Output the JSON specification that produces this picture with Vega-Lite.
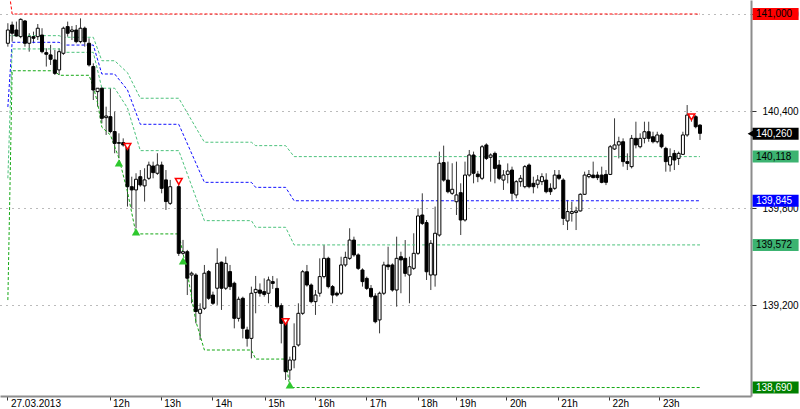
{
"$schema":"https://vega.github.io/schema/vega-lite/v6.json",
"width":751,"height":396,
"autosize":{"type":"none"},
"padding":{"left":0,"top":0,"right":49,"bottom":13},
"background":"white",
"config":{"view":{"stroke":null},"font":"Liberation Sans"},
"datasets":{
"candles":[
{"i":0,"o":140.819,"h":140.943,"l":140.798,"c":140.901},
{"i":1,"o":140.932,"h":140.953,"l":140.829,"c":140.881},
{"i":2,"o":140.901,"h":140.953,"l":140.860,"c":140.864},
{"i":3,"o":140.860,"h":140.973,"l":140.850,"c":140.967},
{"i":4,"o":140.957,"h":140.963,"l":140.798,"c":140.819},
{"i":5,"o":140.819,"h":140.881,"l":140.767,"c":140.860},
{"i":6,"o":140.860,"h":140.891,"l":140.819,"c":140.850},
{"i":7,"o":140.860,"h":140.938,"l":140.839,"c":140.912},
{"i":8,"o":140.870,"h":140.912,"l":140.757,"c":140.767},
{"i":9,"o":140.761,"h":140.788,"l":140.675,"c":140.751},
{"i":10,"o":140.747,"h":140.809,"l":140.685,"c":140.720},
{"i":11,"o":140.716,"h":140.778,"l":140.623,"c":140.633},
{"i":12,"o":140.654,"h":140.788,"l":140.623,"c":140.767},
{"i":13,"o":140.757,"h":140.922,"l":140.747,"c":140.912},
{"i":14,"o":140.922,"h":140.953,"l":140.860,"c":140.881},
{"i":15,"o":140.891,"h":140.926,"l":140.839,"c":140.901},
{"i":16,"o":140.901,"h":140.932,"l":140.819,"c":140.829},
{"i":17,"o":140.829,"h":140.973,"l":140.819,"c":140.912},
{"i":18,"o":140.912,"h":140.922,"l":140.798,"c":140.829},
{"i":19,"o":140.819,"h":140.850,"l":140.675,"c":140.685},
{"i":20,"o":140.675,"h":140.695,"l":140.468,"c":140.530},
{"i":21,"o":140.520,"h":140.541,"l":140.427,"c":140.541},
{"i":22,"o":140.541,"h":140.547,"l":140.324,"c":140.355},
{"i":23,"o":140.359,"h":140.427,"l":140.252,"c":140.369},
{"i":24,"o":140.365,"h":140.541,"l":140.262,"c":140.273},
{"i":25,"o":140.273,"h":140.396,"l":140.139,"c":140.200},
{"i":26,"o":140.200,"h":140.262,"l":140.108,"c":140.205},
{"i":27,"o":140.205,"h":140.231,"l":140.180,"c":140.190},
{"i":28,"o":140.180,"h":140.200,"l":139.809,"c":139.932},
{"i":29,"o":139.932,"h":139.994,"l":139.798,"c":139.912},
{"i":30,"o":139.912,"h":140.015,"l":139.675,"c":139.978},
{"i":31,"o":139.994,"h":140.035,"l":139.932,"c":139.943},
{"i":32,"o":139.937,"h":140.046,"l":139.840,"c":139.974},
{"i":33,"o":139.984,"h":140.087,"l":139.974,"c":140.066},
{"i":34,"o":140.060,"h":140.087,"l":139.984,"c":140.019},
{"i":35,"o":140.015,"h":140.139,"l":140.005,"c":140.066},
{"i":36,"o":140.066,"h":140.087,"l":139.891,"c":139.922},
{"i":37,"o":139.974,"h":140.035,"l":139.788,"c":139.840},
{"i":38,"o":139.829,"h":139.974,"l":139.819,"c":139.932},
{"i":40,"o":139.932,"h":139.953,"l":139.504,"c":139.520},
{"i":41,"o":139.520,"h":139.603,"l":139.510,"c":139.530},
{"i":42,"o":139.530,"h":139.541,"l":139.262,"c":139.366},
{"i":43,"o":139.386,"h":139.407,"l":139.211,"c":139.397},
{"i":44,"o":139.386,"h":139.397,"l":139.087,"c":139.160},
{"i":45,"o":139.149,"h":139.211,"l":138.984,"c":139.174},
{"i":46,"o":139.180,"h":139.448,"l":139.170,"c":139.397},
{"i":47,"o":139.407,"h":139.417,"l":139.232,"c":139.242},
{"i":48,"o":139.262,"h":139.283,"l":139.201,"c":139.211},
{"i":49,"o":139.304,"h":139.551,"l":139.201,"c":139.458},
{"i":50,"o":139.465,"h":139.469,"l":139.170,"c":139.304},
{"i":51,"o":139.304,"h":139.500,"l":139.293,"c":139.458},
{"i":52,"o":139.407,"h":139.448,"l":139.293,"c":139.314},
{"i":53,"o":139.335,"h":139.345,"l":139.056,"c":139.118},
{"i":54,"o":139.118,"h":139.252,"l":139.098,"c":139.236},
{"i":55,"o":139.242,"h":139.252,"l":138.994,"c":139.056},
{"i":56,"o":139.046,"h":139.066,"l":138.943,"c":138.994},
{"i":57,"o":138.994,"h":139.314,"l":138.870,"c":139.273},
{"i":58,"o":139.277,"h":139.380,"l":139.149,"c":139.297},
{"i":59,"o":139.293,"h":139.334,"l":139.252,"c":139.273},
{"i":60,"o":139.283,"h":139.365,"l":139.252,"c":139.266},
{"i":61,"o":139.273,"h":139.376,"l":139.211,"c":139.355},
{"i":62,"o":139.345,"h":139.380,"l":139.300,"c":139.334},
{"i":63,"o":139.303,"h":139.365,"l":139.180,"c":139.190},
{"i":64,"o":139.196,"h":139.211,"l":138.963,"c":139.087},
{"i":65,"o":139.097,"h":139.107,"l":138.737,"c":138.788},
{"i":66,"o":138.798,"h":138.881,"l":138.737,"c":138.860},
{"i":67,"o":138.860,"h":139.087,"l":138.809,"c":138.943},
{"i":68,"o":138.953,"h":139.211,"l":138.943,"c":139.149},
{"i":69,"o":139.149,"h":139.417,"l":139.139,"c":139.406},
{"i":70,"o":139.406,"h":139.448,"l":139.314,"c":139.324},
{"i":71,"o":139.324,"h":139.334,"l":139.211,"c":139.221},
{"i":72,"o":139.221,"h":139.293,"l":139.139,"c":139.262},
{"i":73,"o":139.273,"h":139.489,"l":139.252,"c":139.376},
{"i":74,"o":139.376,"h":139.571,"l":139.365,"c":139.489},
{"i":75,"o":139.489,"h":139.499,"l":139.303,"c":139.314},
{"i":76,"o":139.314,"h":139.324,"l":139.211,"c":139.262},
{"i":77,"o":139.273,"h":139.283,"l":139.252,"c":139.262},
{"i":78,"o":139.273,"h":139.499,"l":139.262,"c":139.448},
{"i":79,"o":139.448,"h":139.530,"l":139.437,"c":139.495},
{"i":80,"o":139.489,"h":139.675,"l":139.479,"c":139.602},
{"i":81,"o":139.602,"h":139.623,"l":139.499,"c":139.510},
{"i":82,"o":139.510,"h":139.520,"l":139.417,"c":139.427},
{"i":83,"o":139.417,"h":139.427,"l":139.314,"c":139.345},
{"i":84,"o":139.365,"h":139.376,"l":139.293,"c":139.303},
{"i":85,"o":139.303,"h":139.324,"l":139.242,"c":139.252},
{"i":86,"o":139.256,"h":139.273,"l":139.087,"c":139.097},
{"i":87,"o":139.108,"h":139.283,"l":139.025,"c":139.273},
{"i":88,"o":139.273,"h":139.468,"l":139.262,"c":139.448},
{"i":89,"o":139.448,"h":139.561,"l":139.417,"c":139.437},
{"i":90,"o":139.448,"h":139.458,"l":139.283,"c":139.293},
{"i":91,"o":139.293,"h":139.623,"l":139.190,"c":139.489},
{"i":92,"o":139.499,"h":139.530,"l":139.273,"c":139.479},
{"i":93,"o":139.489,"h":139.602,"l":139.376,"c":139.396},
{"i":94,"o":139.386,"h":139.499,"l":139.211,"c":139.437},
{"i":95,"o":139.427,"h":139.644,"l":139.417,"c":139.520},
{"i":96,"o":139.520,"h":139.798,"l":139.510,"c":139.751},
{"i":97,"o":139.757,"h":139.891,"l":139.695,"c":139.705},
{"i":98,"o":139.710,"h":139.726,"l":139.355,"c":139.406},
{"i":99,"o":139.386,"h":139.602,"l":139.293,"c":139.582},
{"i":100,"o":139.386,"h":139.809,"l":139.314,"c":139.644},
{"i":101,"o":139.633,"h":140.149,"l":139.623,"c":140.077},
{"i":102,"o":140.081,"h":140.186,"l":139.963,"c":139.973},
{"i":103,"o":139.973,"h":140.087,"l":139.891,"c":139.901},
{"i":104,"o":139.891,"h":140.077,"l":139.881,"c":139.916},
{"i":105,"o":139.839,"h":140.087,"l":139.757,"c":139.881},
{"i":106,"o":139.895,"h":139.953,"l":139.633,"c":139.726},
{"i":107,"o":139.726,"h":140.087,"l":139.716,"c":140.004},
{"i":108,"o":140.004,"h":140.159,"l":139.994,"c":140.128},
{"i":109,"o":140.128,"h":140.149,"l":139.953,"c":140.015},
{"i":110,"o":140.010,"h":140.030,"l":139.960,"c":139.994},
{"i":111,"o":139.984,"h":140.190,"l":139.973,"c":140.179},
{"i":112,"o":140.190,"h":140.200,"l":140.097,"c":140.107},
{"i":113,"o":140.114,"h":140.138,"l":139.963,"c":140.128},
{"i":114,"o":140.138,"h":140.149,"l":139.953,"c":140.045},
{"i":115,"o":140.066,"h":140.097,"l":139.973,"c":139.984},
{"i":116,"o":139.973,"h":140.035,"l":139.912,"c":140.004},
{"i":117,"o":140.008,"h":140.076,"l":139.953,"c":140.029},
{"i":118,"o":140.035,"h":140.056,"l":139.850,"c":139.891},
{"i":119,"o":139.881,"h":139.973,"l":139.860,"c":139.963},
{"i":120,"o":139.963,"h":140.004,"l":139.932,"c":139.984},
{"i":121,"o":139.932,"h":140.066,"l":139.922,"c":140.056},
{"i":122,"o":140.066,"h":140.076,"l":139.922,"c":139.932},
{"i":123,"o":139.953,"h":139.994,"l":139.891,"c":139.932},
{"i":124,"o":139.947,"h":140.004,"l":139.922,"c":139.973},
{"i":125,"o":139.963,"h":140.015,"l":139.942,"c":139.994},
{"i":126,"o":139.973,"h":140.015,"l":139.891,"c":139.901},
{"i":127,"o":139.922,"h":139.953,"l":139.881,"c":139.901},
{"i":128,"o":139.922,"h":140.035,"l":139.912,"c":140.004},
{"i":129,"o":140.004,"h":140.035,"l":139.973,"c":139.984},
{"i":130,"o":139.973,"h":139.984,"l":139.695,"c":139.736},
{"i":131,"o":139.720,"h":139.850,"l":139.664,"c":139.778},
{"i":132,"o":139.767,"h":139.839,"l":139.716,"c":139.778},
{"i":133,"o":139.773,"h":139.808,"l":139.664,"c":139.782},
{"i":134,"o":139.782,"h":139.891,"l":139.778,"c":139.885},
{"i":135,"o":139.885,"h":140.025,"l":139.881,"c":140.004},
{"i":136,"o":139.994,"h":140.035,"l":139.984,"c":140.008},
{"i":137,"o":140.004,"h":140.087,"l":139.984,"c":139.988},
{"i":138,"o":140.004,"h":140.025,"l":139.973,"c":139.988},
{"i":139,"o":140.004,"h":140.056,"l":139.953,"c":139.959},
{"i":140,"o":140.008,"h":140.035,"l":139.942,"c":139.959},
{"i":141,"o":140.008,"h":140.190,"l":140.004,"c":140.179},
{"i":142,"o":140.165,"h":140.355,"l":140.159,"c":140.190},
{"i":143,"o":140.190,"h":140.241,"l":140.107,"c":140.210},
{"i":144,"o":140.210,"h":140.231,"l":140.056,"c":140.087},
{"i":145,"o":140.087,"h":140.138,"l":140.035,"c":140.076},
{"i":146,"o":140.056,"h":140.252,"l":140.045,"c":140.231},
{"i":147,"o":140.231,"h":140.334,"l":140.169,"c":140.190},
{"i":148,"o":140.179,"h":140.262,"l":140.169,"c":140.231},
{"i":149,"o":140.231,"h":140.334,"l":140.200,"c":140.272},
{"i":150,"o":140.272,"h":140.334,"l":140.210,"c":140.231},
{"i":151,"o":140.241,"h":140.272,"l":140.200,"c":140.210},
{"i":152,"o":140.210,"h":140.272,"l":140.200,"c":140.252},
{"i":153,"o":140.252,"h":140.262,"l":140.169,"c":140.179},
{"i":154,"o":140.169,"h":140.179,"l":140.025,"c":140.087},
{"i":155,"o":140.066,"h":140.169,"l":140.025,"c":140.118},
{"i":156,"o":140.138,"h":140.159,"l":140.035,"c":140.097},
{"i":157,"o":140.107,"h":140.149,"l":140.066,"c":140.138},
{"i":158,"o":140.132,"h":140.272,"l":140.128,"c":140.252},
{"i":159,"o":140.252,"h":140.437,"l":140.241,"c":140.375},
{"i":160,"o":140.375,"h":140.379,"l":140.334,"c":140.355},
{"i":161,"o":140.365,"h":140.375,"l":140.293,"c":140.303},
{"i":162,"o":140.313,"h":140.318,"l":140.221,"c":140.262}
],
"lines":[
{"s":"res","i":0,"v":141.2},{"s":"res","i":1,"v":141.0},{"s":"res","i":162,"v":141.0},
{"s":"up","i":0,"v":140.866},{"s":"up","i":12,"v":140.866},{"s":"up","i":13,"v":140.856},{"s":"up","i":20,"v":140.856},{"s":"up","i":22,"v":140.711},{"s":"up","i":25,"v":140.711},{"s":"up","i":28,"v":140.637},{"s":"up","i":31,"v":140.479},{"s":"up","i":40,"v":140.479},{"s":"up","i":46,"v":140.207},{"s":"up","i":57,"v":140.207},{"s":"up","i":58,"v":140.186},{"s":"up","i":65,"v":140.186},{"s":"up","i":67,"v":140.118},{"s":"up","i":162,"v":140.118},
{"s":"mid","i":0,"v":140.425},{"s":"mid","i":1,"v":140.825},{"s":"mid","i":12,"v":140.825},{"s":"mid","i":13,"v":140.808},{"s":"mid","i":20,"v":140.808},{"s":"mid","i":22,"v":140.629},{"s":"mid","i":25,"v":140.629},{"s":"mid","i":28,"v":140.530},{"s":"mid","i":31,"v":140.318},{"s":"mid","i":40,"v":140.318},{"s":"mid","i":46,"v":139.959},{"s":"mid","i":57,"v":139.959},{"s":"mid","i":58,"v":139.928},{"s":"mid","i":65,"v":139.928},{"s":"mid","i":67,"v":139.845},{"s":"mid","i":162,"v":139.845},
{"s":"low","i":0,"v":139.984},{"s":"low","i":1,"v":140.784},{"s":"low","i":12,"v":140.784},{"s":"low","i":13,"v":140.763},{"s":"low","i":20,"v":140.763},{"s":"low","i":22,"v":140.541},{"s":"low","i":25,"v":140.541},{"s":"low","i":28,"v":140.419},{"s":"low","i":31,"v":140.155},{"s":"low","i":40,"v":140.155},{"s":"low","i":46,"v":139.722},{"s":"low","i":57,"v":139.722},{"s":"low","i":58,"v":139.681},{"s":"low","i":65,"v":139.681},{"s":"low","i":67,"v":139.572},{"s":"low","i":162,"v":139.572},
{"s":"sup","i":0,"v":139.231},{"s":"sup","i":1,"v":140.649},{"s":"sup","i":11,"v":140.649},{"s":"sup","i":12,"v":140.621},{"s":"sup","i":19,"v":140.621},{"s":"sup","i":20,"v":140.55},{"s":"sup","i":21,"v":140.45},{"s":"sup","i":22,"v":140.30},{"s":"sup","i":24,"v":140.252},{"s":"sup","i":26,"v":140.108},{"s":"sup","i":28,"v":139.90},{"s":"sup","i":30,"v":139.64},{"s":"sup","i":40,"v":139.64},{"s":"sup","i":42,"v":139.40},{"s":"sup","i":44,"v":139.10},{"s":"sup","i":46,"v":138.922},{"s":"sup","i":57,"v":138.922},{"s":"sup","i":58,"v":138.866},{"s":"sup","i":65,"v":138.866},{"s":"sup","i":66,"v":138.69},{"s":"sup","i":162,"v":138.69}
],
"buy":[{"i":26,"v":140.079},{"i":30,"v":139.652},{"i":41,"v":139.473},{"i":66,"v":138.706}],
"sell":[{"i":28,"v":140.181},{"i":40,"v":139.964},{"i":65,"v":139.098},{"i":160,"v":140.363}],
"boxes":[
{"s":"res","v":141.0,"t":"141,000"},
{"s":"last","v":140.26,"t":"140,260"},
{"s":"up","v":140.118,"t":"140,118"},
{"s":"mid","v":139.845,"t":"139,845"},
{"s":"low","v":139.572,"t":"139,572"},
{"s":"sup","v":138.69,"t":"138,690"}
]
},
"layer":[
{"data":{"name":"candles"},
 "mark":{"type":"rule","color":"#3a3a3a","strokeWidth":1},
 "encoding":{
  "x":{"field":"i","type":"quantitative","scale":{"domain":[-0.67,172.77],"nice":false,"zero":false},
   "axis":{"orient":"bottom","title":null,"grid":false,"values":[-0.1,23.8,35.8,47.8,60.1,71.8,83.9,95.9,104.9,116.7,128.7,140.7,152.5],
    "labelExpr":"['27.03.2013','12h','13h','14h','15h','16h','17h','18h','19h','20h','21h','22h','23h'][indexof([-0.1,23.8,35.8,47.8,60.1,71.8,83.9,95.9,104.9,116.7,128.7,140.7,152.5], datum.value)]",
    "domainColor":"#8c8c8c","domainWidth":2,"tickColor":"#333333","tickSize":4,"labelAlign":"left","labelOffset":3,"labelPadding":-2,"labelFontSize":10,"labelColor":"#000000","labelBound":false,"labelOverlap":false,"labelFlush":false}},
  "y":{"field":"l","type":"quantitative","scale":{"domain":[138.6376,141.0866],"nice":false,"zero":false},
   "axis":{"orient":"right","title":null,"values":[139.2,139.8,140.4,141.0],"labelExpr":"replace(format(datum.value,'.3f'),'.',',')",
    "grid":true,"gridDash":[1,5],"gridColor":"#777777","domainColor":"#8c8c8c","domainWidth":2,"tickSize":5,"tickColor":"#333333","labelPadding":6,"labelFontSize":10,"labelColor":"#000000","labelAlign":"left","labelBaseline":"middle"}},
  "y2":{"field":"h"}
 }},
{"mark":{"type":"rule","color":"#777777","strokeDash":[1,4],"strokeWidth":1},
 "encoding":{"x":{"datum":-0.15}}},
{"data":{"name":"lines"},
 "mark":{"type":"line","strokeDash":[3,2],"strokeWidth":1,"clip":true},
 "encoding":{
  "x":{"field":"i","type":"quantitative"},
  "y":{"field":"v","type":"quantitative"},
  "detail":{"field":"s","type":"nominal"},
  "stroke":{"field":"s","type":"nominal","legend":null,"scale":{"domain":["res","up","mid","low","sup"],"range":["#ff0000","#4cc27c","#1010ff","#4cc27c","#14a814"]}}
 }},
{"data":{"name":"candles"},
 "mark":{"type":"bar","orient":"vertical","width":3,"stroke":"#000000","strokeWidth":1},
 "encoding":{
  "x":{"field":"i","type":"quantitative"},
  "y":{"field":"o","type":"quantitative"},
  "y2":{"field":"c"},
  "fill":{"condition":{"test":"datum.c < datum.o","value":"#000000"},"value":"#ffffff"}
 }},
{"data":{"name":"buy"},
 "mark":{"type":"point","shape":"triangle-up","filled":true,"size":70,"color":"#2ec82e","opacity":1},
 "encoding":{"x":{"field":"i","type":"quantitative"},"y":{"field":"v","type":"quantitative"}}},
{"data":{"name":"sell"},
 "mark":{"type":"point","shape":"triangle-down","filled":true,"size":45,"fill":"#ffffff","stroke":"#ff0000","strokeWidth":1.5,"opacity":1},
 "encoding":{"x":{"field":"i","type":"quantitative"},"y":{"field":"v","type":"quantitative"}}},
{"data":{"name":"boxes"},
 "mark":{"type":"tick","orient":"horizontal","thickness":12,"size":46,"clip":false,"opacity":1},
 "encoding":{
  "x":{"datum":179.7},
  "y":{"field":"v","type":"quantitative"},
  "color":{"field":"s","type":"nominal","legend":null,"scale":{"domain":["res","last","up","mid","low","sup"],"range":["#ff0000","#000000","#3cb371","#0000ff","#3cb371","#008000"]}}
 }},
{"data":{"name":"boxes"},
 "transform":[{"filter":"datum.s == 'last'"}],
 "mark":{"type":"point","shape":"triangle-left","filled":true,"size":70,"color":"#000000","opacity":1,"clip":false},
 "encoding":{"x":{"datum":174.0},"y":{"field":"v","type":"quantitative"}}},
{"data":{"name":"boxes"},
 "mark":{"type":"text","align":"left","baseline":"middle","fontSize":10,"clip":false},
 "encoding":{
  "x":{"datum":175.1},
  "y":{"field":"v","type":"quantitative"},
  "text":{"field":"t"},
  "color":{"condition":{"test":"indexof(['res','up','low'], datum.s) >= 0","value":"#000000"},"value":"#ffffff"}
 }}
]
}
